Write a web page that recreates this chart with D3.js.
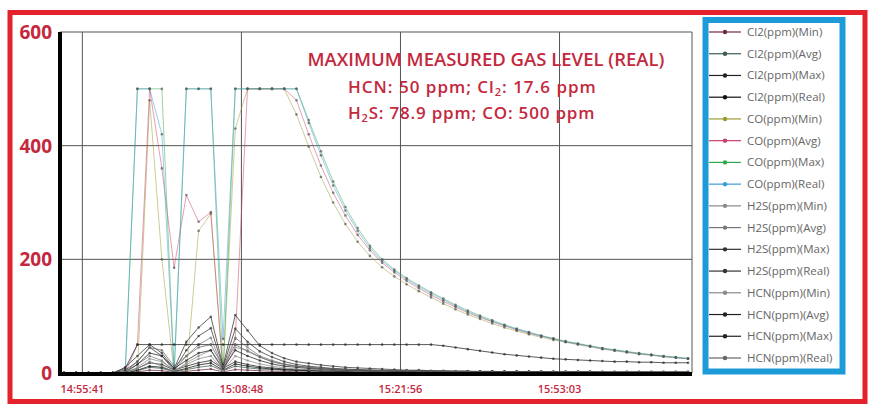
<!DOCTYPE html>
<html>
<head>
<meta charset="utf-8">
<script src="https://cdn.jsdelivr.net/npm/d3@7"></script>
<style>
  body { margin: 0; background: #fff; }
  text { font-family: "Open Sans", "Noto Sans", sans-serif; }
</style>
</head>
<body>
<div id="chart"></div>
<script>
// category ticks sit between samples (Excel "between tick marks")
const tickIndex = [1.5, 14.5, 27.5, 40.5];
const tickLabels = ["14:55:41", "15:08:48", "15:21:56", "15:53:03"];
const yTicks = [0, 200, 400, 600];

const cl2Min  = [0,0,0,0,0, 0,2,5,4,1,3,5,7,2,6,5,4,3,3,2, 2,2,2,2,1,1,1,1,1,1,1,1,1,1,1,1,1,1,1,1,1,1,1,1,1,1,1,1,1,1,1,1];
const cl2Avg  = [0,0,0,0,0, 0,4,10,8,2,6,10,13,4,12,9,7,6,5,4, 4,3,3,3,3,2,2,2,2,2,2,2,2,2,2,2,2,2,2,1,1,1,1,1,1,1,1,1,1,1,1,1];
const cl2Max  = [0,0,0,0,0, 1,8,18,15,5,12,18,22,8,20,15,11,9,7,6, 5,5,4,4,4,3,3,3,3,3,3,3,3,3,2,2,2,2,2,2,2,2,2,2,2,2,2,2,2,2,2,2];
const cl2Real = [0,0,0,0,0, 0,5,12,10,3,8,14,17.6,5,16,12,9,7,6,5, 4,4,3,3,3,3,2,2,2,2,2,2,2,2,2,2,2,2,1,1,1,1,1,1,1,1,1,1,1,1,1,1];

const coMin  = [0,0,0,0,0, 0,0,480,200,0,0,250,280,0,430,500,500,500,500,
  455,398,345,300,262,231,206,186,170,156,144,133,122,112,103,95,87,80,74,68,63,58,54,50,46,42,39,36,33,31,29,27,25];
const coAvg  = [0,0,0,0,0, 0,50,500,360,185,313,266,283,0,60,500,500,500,500,
  480,420,365,317,277,243,216,194,177,162,149,137,126,116,106,98,90,83,76,70,65,60,55,51,47,43,40,37,34,32,29,27,25];
const coMax  = [0,0,0,0,0, 0,500,500,500,0,500,500,500,0,500,500,500,500,500,
  500,445,390,337,292,255,224,200,182,167,154,142,131,120,110,101,93,85,78,72,66,61,56,52,48,44,41,38,35,32,30,28,26];
const coReal = [0,0,0,0,0, 0,500,500,420,0,500,500,500,60,500,500,500,500,500,
  500,440,383,330,286,250,220,197,180,165,152,140,129,118,108,99,91,84,77,71,65,60,55,51,47,43,40,37,34,32,29,27,25];

const h2sMin  = [0,0,0,0,0, 0,8,20,12,2,18,30,40,4,45,40,28,20,15,12, 10,8,7,6,5,5,4,4,3,3,3,3,2,2,2,2,2,2,2,2,1,1,1,1,1,1,1,1,1,1,1,1];
const h2sAvg  = [0,0,0,0,0, 3,15,30,22,4,30,50,62,8,62,45,30,22,16,12, 10,8,7,6,5,5,4,4,3,3,3,3,2,2,2,2,2,2,2,2,1,1,1,1,1,1,1,1,1,1,1,1];
const h2sMax  = [0,0,0,0,0, 10,30,50,35,8,55,80,99,12,102,75,48,35,26,20, 17,14,12,10,9,8,7,6,5,5,4,4,3,3,3,3,2,2,2,2,2,2,2,2,1,1,1,1,1,1,1,1];
const h2sReal = [0,0,0,0,0, 5,20,45,30,5,40,65,78.9,10,78,55,38,28,20,15, 12,10,8,7,6,5,5,4,4,4,3,3,3,3,2,2,2,2,2,2,2,2,2,2,1,1,1,1,1,1,1,1];

const hcnMin  = [0,0,0,0,0, 0,10,25,20,5,15,25,30,5,30,22,16,12,9,7, 6,5,4,4,3,3,3,2,2,2,2,2,2,1,1,1,1,1,1,1,1,1,1,1,1,1,1,1,1,1,1,1];
const hcnAvg  = [0,0,0,0,0, 1,15,35,30,8,22,35,40,8,40,30,22,16,12,10, 8,7,6,5,5,4,4,3,3,3,3,2,2,2,2,2,2,2,2,2,1,1,1,1,1,1,1,1,1,1,1,1];
const hcnMax  = [0,0,0,0,0, 8,50,50,50,50,50,50,50,50,50,50,50,50,50,50, 50,50,50,50,50,50,50,50,50,50,50,
  48,45,42,39,36,33,31,29,27,25,24,23,22,21,20,20,19,19,18,18,18];
const hcnReal = [0,0,0,0,0, 2,20,45,40,12,30,45,50,10,50,38,28,20,15,12, 10,8,7,6,5,5,4,4,4,3,3,3,3,3,2,2,2,2,2,2,2,2,2,2,2,2,2,2,2,2,2,2];

const seriesNames = [
  "Cl2(ppm)(Min)", "Cl2(ppm)(Avg)", "Cl2(ppm)(Max)", "Cl2(ppm)(Real)",
  "CO(ppm)(Min)", "CO(ppm)(Avg)", "CO(ppm)(Max)", "CO(ppm)(Real)",
  "H2S(ppm)(Min)", "H2S(ppm)(Avg)", "H2S(ppm)(Max)", "H2S(ppm)(Real)",
  "HCN(ppm)(Min)", "HCN(ppm)(Avg)", "HCN(ppm)(Max)", "HCN(ppm)(Real)"
];
const seriesValues = [cl2Min, cl2Avg, cl2Max, cl2Real, coMin, coAvg, coMax, coReal,
  h2sMin, h2sAvg, h2sMax, h2sReal, hcnMin, hcnAvg, hcnMax, hcnReal];
const seriesColors = ["#6e2c3c", "#3d5c4e", "#222", "#111",
  "#9a9a30", "#c8406a", "#2fa84a", "#3b9bd6",
  "#8a8a8a", "#777", "#333", "#333",
  "#8a8a8a", "#222", "#222", "#666"];

const series = seriesNames.map((name, k) => ({name, values: seriesValues[k], color: seriesColors[k]}));

const W = 869, H = 406;
const svg = d3.select("#chart").append("svg").attr("width", W).attr("height", H);

const plotL = 60, plotR = 692, plotT = 32, plotB = 373;
const x = d3.scaleLinear().domain([0, 51]).range([64, 688]);
const y = d3.scaleLinear().domain([0, 600]).range([plotB, plotT]);

// outer red frame
svg.append("rect")
  .attr("x", 10).attr("y", 12.5).attr("width", 855).attr("height", 389)
  .attr("fill", "none").attr("stroke", "#e3222b").attr("stroke-width", 5);

// grid
svg.append("g").selectAll("line")
  .data(yTicks.filter(d => d > 0))
  .join("line")
  .attr("x1", plotL).attr("x2", plotR)
  .attr("y1", d => y(d)).attr("y2", d => y(d))
  .attr("stroke", "#555").attr("stroke-width", 1);

svg.append("g").selectAll("line")
  .data(tickIndex)
  .join("line")
  .attr("x1", d => x(d)).attr("x2", d => x(d))
  .attr("y1", plotT).attr("y2", plotB)
  .attr("stroke", "#555").attr("stroke-width", 1);

svg.append("line")
  .attr("x1", plotR).attr("x2", plotR).attr("y1", plotT).attr("y2", plotB)
  .attr("stroke", "#555");

// series
const line = d3.line().x((d, i) => x(i)).y(d => y(d));
const gSeries = svg.append("g");
series.forEach(s => {
  const isCO = s.name.startsWith("CO");
  gSeries.append("path")
    .attr("d", line(s.values))
    .attr("fill", "none")
    .attr("stroke", s.color)
    .attr("stroke-opacity", isCO ? 0.5 : 0.75)
    .attr("stroke-width", 1);
  gSeries.append("g").selectAll("circle")
    .data(s.values)
    .join("circle")
    .attr("cx", (d, i) => x(i))
    .attr("cy", d => y(d))
    .attr("r", 1.3)
    .attr("fill", isCO ? "#555" : s.color)
    .attr("fill-opacity", 0.7);
});

// axes (thick black)
svg.append("line").attr("x1", plotL).attr("x2", plotL).attr("y1", plotT).attr("y2", plotB + 2)
  .attr("stroke", "#000").attr("stroke-width", 4);
svg.append("line").attr("x1", plotL - 2).attr("x2", plotR).attr("y1", plotB + 1).attr("y2", plotB + 1)
  .attr("stroke", "#000").attr("stroke-width", 4);

// y labels
svg.append("g").selectAll("text")
  .data(yTicks)
  .join("text")
  .attr("x", 52).attr("y", d => y(d))
  .attr("dy", "0.36em")
  .attr("text-anchor", "end")
  .attr("fill", "#c4283e")
  .attr("font-size", 19).attr("font-weight", 700)
  .text(d => d);

// x labels
svg.append("g").selectAll("text")
  .data(tickIndex)
  .join("text")
  .attr("x", d => x(d)).attr("y", 393)
  .attr("text-anchor", "middle")
  .attr("fill", "#c4283e")
  .attr("font-size", 11).attr("font-weight", 600)
  .text((d, i) => tickLabels[i]);

// annotation
const ann = svg.append("g").attr("fill", "#c4283e").attr("font-weight", 600);
ann.append("text").attr("x", 486).attr("y", 66).attr("text-anchor", "middle")
  .attr("font-size", 18.5)
  .text("MAXIMUM MEASURED GAS LEVEL (REAL)");
const l2 = ann.append("text").attr("x", 348).attr("y", 93)
  .attr("font-size", 17).attr("letter-spacing", 1);
l2.append("tspan").text("HCN: 50 ppm; Cl");
l2.append("tspan").attr("font-size", 11).attr("dy", 3).text("2");
l2.append("tspan").attr("dy", -3).text(": 17.6 ppm");
const l3 = ann.append("text").attr("x", 348).attr("y", 119)
  .attr("font-size", 17).attr("letter-spacing", 0.8);
l3.append("tspan").text("H");
l3.append("tspan").attr("font-size", 11).attr("dy", 3).text("2");
l3.append("tspan").attr("dy", -3).text("S: 78.9 ppm; CO: 500 ppm");

// legend
svg.append("clipPath").attr("id", "legclip")
  .append("rect").attr("x", 708).attr("y", 22).attr("width", 131).attr("height", 347);
svg.append("rect")
  .attr("x", 705.5).attr("y", 20).attr("width", 137).attr("height", 351.5)
  .attr("fill", "#fff").attr("stroke", "#1d9ad8").attr("stroke-width", 6);

const leg = svg.append("g").attr("clip-path", "url(#legclip)");
const rowY = d3.scaleLinear().domain([0, 15]).range([32, 358]);
const rows = leg.selectAll("g").data(series).join("g")
  .attr("transform", (d, i) => `translate(0,${rowY(i)})`);
rows.append("line").attr("x1", 709).attr("x2", 741).attr("stroke", d => d.color).attr("stroke-width", 1.2);
rows.append("circle").attr("cx", 725).attr("r", 2.2).attr("fill", d => d.color);
rows.append("text").attr("x", 747).attr("dy", "0.35em")
  .attr("font-size", 11.5).attr("fill", "#666")
  .text(d => d.name);
</script>
</body>
</html>
